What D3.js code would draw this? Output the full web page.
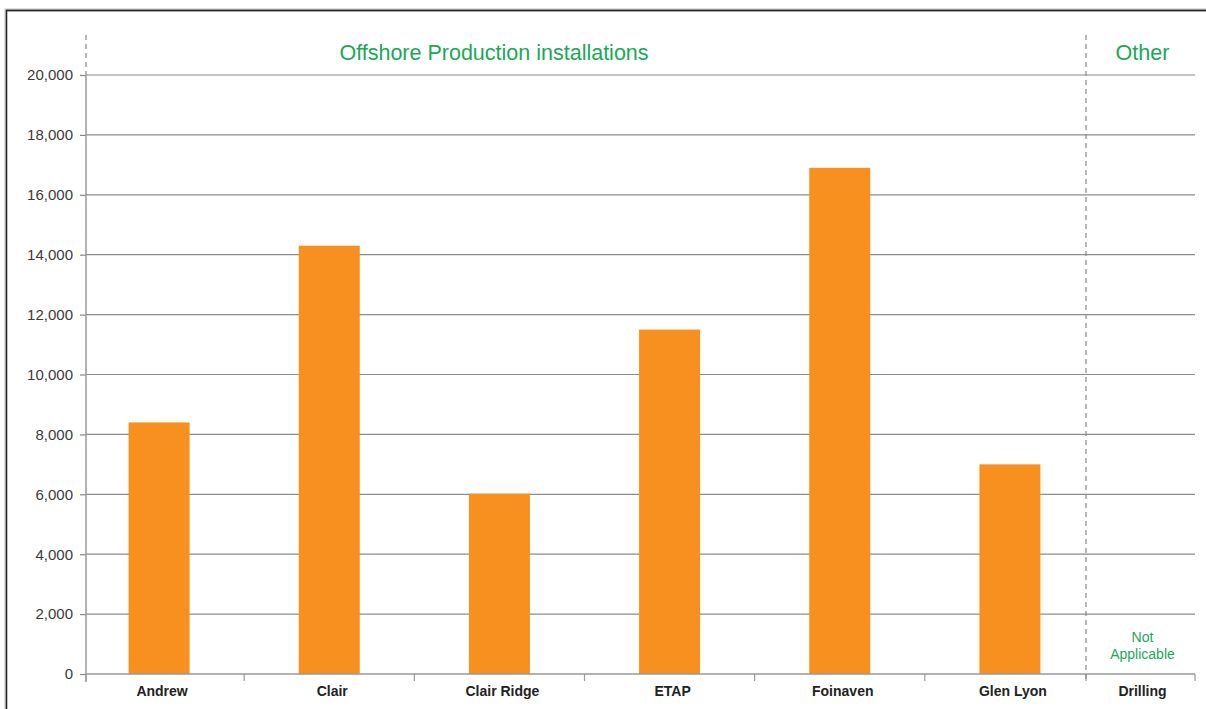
<html>
<head>
<script src="https://d3js.org/d3.v7.min.js"></script>
<style>
  body { margin:0; background:#fff; }
  text { font-family: "Liberation Sans", Arial, sans-serif; }
</style>
</head>
<body>
<svg width="1206" height="709"></svg>
<script>
var categories = ["Andrew","Clair","Clair Ridge","ETAP","Foinaven","Glen Lyon"];
var values = [8400,14300,6020,11500,16900,7000];
var otherCategories = ["Drilling"];
var yTicks = [0,2000,4000,6000,8000,10000,12000,14000,16000,18000,20000];

var svg = d3.select("svg");
var plotLeft = 86, plotRight = 1195, split = 1086, plotTop = 75, plotBottom = 674;

// frame
svg.append("path")
  .attr("d","M6,709 L6,10 L1206,10")
  .attr("fill","none").attr("stroke","#bbb").attr("stroke-width",3);
svg.append("path")
  .attr("d","M6.5,709 L6.5,10.5 L1206,10.5")
  .attr("fill","none").attr("stroke","#222").attr("stroke-width",1.3);

var y = d3.scaleLinear().domain([0,20000]).range([plotBottom,plotTop]);
// bands run a little wider than the plot so bars sit where the original has them
var x = d3.scaleBand().domain(categories).range([74,1095]);
var x2 = d3.scaleBand().domain(otherCategories).range([split,plotRight]);

// grid
svg.append("g").selectAll("line").data(yTicks.slice(1)).enter().append("line")
  .attr("x1",plotLeft).attr("x2",plotRight)
  .attr("y1",function(d){return y(d);}).attr("y2",function(d){return y(d);})
  .attr("stroke","#8c8c8c").attr("stroke-width",1.2);

// y axis
var yAxis = d3.axisLeft(y).tickValues(yTicks).tickSize(6).tickPadding(7)
  .tickFormat(d3.format(","));
var gy = svg.append("g").attr("transform","translate("+plotLeft+",0)").call(yAxis);
gy.select(".domain").remove();
gy.selectAll(".tick line").attr("stroke","#888").attr("stroke-width",1.2);
gy.selectAll(".tick text").attr("fill","#3a3a3a").style("font-size","15px");
svg.append("line").attr("x1",plotLeft).attr("x2",plotLeft).attr("y1",plotTop).attr("y2",plotBottom+8)
  .attr("stroke","#999").attr("stroke-width",1.5);

// bars
var barW = 61;
svg.append("g").selectAll("rect").data(values).enter().append("rect")
  .attr("x",function(d,i){return x(categories[i])+x.bandwidth()/2-barW/2;})
  .attr("y",function(d){return y(d);})
  .attr("width",barW)
  .attr("height",function(d){return y(0)-y(d);})
  .attr("fill","#f7901e");

// x axis line and ticks
svg.append("line").attr("x1",plotLeft).attr("x2",plotRight).attr("y1",plotBottom).attr("y2",plotBottom)
  .attr("stroke","#999").attr("stroke-width",1.5);
var edges = [plotLeft].concat(categories.slice(1).map(function(c){return x(c);})).concat([split,plotRight]);
svg.append("g").selectAll("line").data(edges).enter().append("line")
  .attr("x1",function(d){return d;}).attr("x2",function(d){return d;})
  .attr("y1",plotBottom).attr("y2",plotBottom+7)
  .attr("stroke","#999").attr("stroke-width",1.2);

// category labels
svg.append("g").selectAll("text").data(categories).enter().append("text")
  .attr("x",function(d){return x(d)+x.bandwidth()/2+3;})
  .attr("y",696).attr("text-anchor","middle")
  .style("font-size","14px").style("font-weight","bold").attr("fill","#222")
  .text(function(d){return d;});
svg.append("g").selectAll("text").data(otherCategories).enter().append("text")
  .attr("x",function(d){return x2(d)+x2.bandwidth()/2+2;})
  .attr("y",696).attr("text-anchor","middle")
  .style("font-size","14px").style("font-weight","bold").attr("fill","#222")
  .text(function(d){return d;});

// dashed dividers
[plotLeft,split].forEach(function(px){
  svg.append("line").attr("x1",px).attr("x2",px).attr("y1",35)
    .attr("y2",px===plotLeft?plotTop:plotBottom+7)
    .attr("stroke","#888").attr("stroke-width",1.2).attr("stroke-dasharray","5,4");
});

// section titles
svg.append("text").attr("x",494).attr("y",60).attr("text-anchor","middle")
  .style("font-size","21.5px").attr("fill","#1aa858").text("Offshore Production installations");
svg.append("text").attr("x",x2("Drilling")+x2.bandwidth()/2+2).attr("y",60).attr("text-anchor","middle")
  .style("font-size","21.5px").attr("fill","#1aa858").text("Other");

var na = svg.append("text").attr("text-anchor","middle")
  .style("font-size","14px").attr("fill","#1aa858");
na.append("tspan").attr("x",x2("Drilling")+x2.bandwidth()/2+2).attr("y",642).text("Not");
na.append("tspan").attr("x",x2("Drilling")+x2.bandwidth()/2+2).attr("y",659).text("Applicable");
</script>
</body>
</html>
